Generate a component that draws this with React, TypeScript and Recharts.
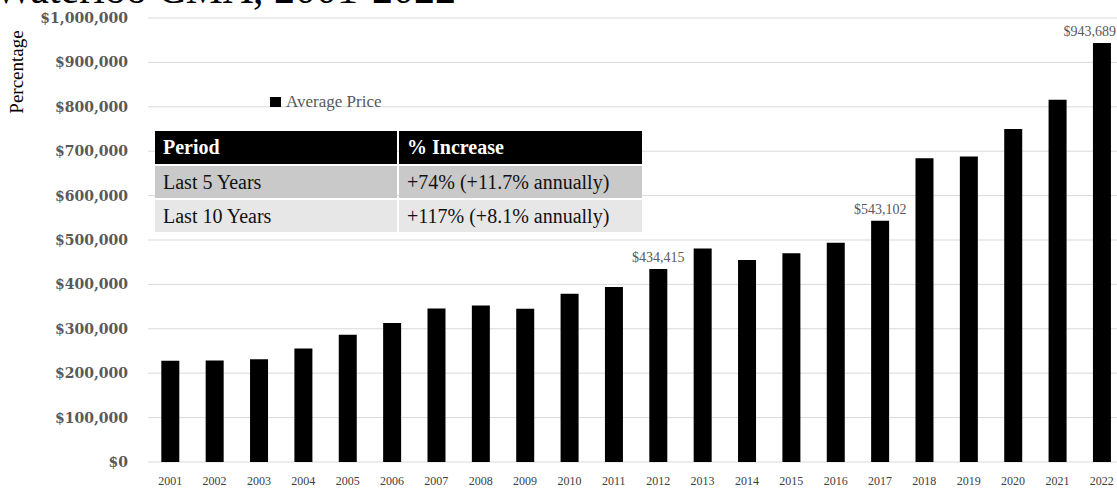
import React from 'react';
import { BarChart, Bar, XAxis, YAxis, CartesianGrid, LabelList } from 'recharts';

const years = [
  '2001', '2002', '2003', '2004', '2005', '2006', '2007', '2008', '2009', '2010', '2011',
  '2012', '2013', '2014', '2015', '2016', '2017', '2018', '2019', '2020', '2021', '2022',
];

const averagePrice = [
  227800, 228500, 231700, 255700, 286700, 313000, 345500, 352300, 345000, 379000, 394000,
  434415, 481000, 455000, 470000, 494000, 543102, 684000, 688000, 750000, 816000, 943689,
];

// only these years get a value label above the bar
const labeledYears = ['2012', '2017', '2022'];

const yTicks = [0, 100000, 200000, 300000, 400000, 500000, 600000, 700000, 800000, 900000, 1000000];

const periods = ['Last 5 Years', 'Last 10 Years'];
const increases = ['+74% (+11.7% annually)', '+117% (+8.1% annually)'];

const data = years.map((year, i) => ({ year, price: averagePrice[i] }));

const money = (v: number) => '$' + v.toLocaleString('en-US');

const serif = '"Liberation Serif", "DejaVu Serif", serif';

const VIEW_RIGHT = 1117;

function ValueLabel(props: any) {
  const { x, y, width, value, index } = props;
  if (!labeledYears.includes(years[index])) return null;
  const cx = x + width / 2;
  // keep the last label inside the visible area
  const halfText = 27;
  const pinned = cx + halfText > VIEW_RIGHT;
  return (
    <text
      x={pinned ? VIEW_RIGHT - 1 : cx}
      y={y - 7}
      textAnchor={pinned ? 'end' : 'middle'}
      fontFamily={serif}
      fontSize={14}
      fill="#595959"
    >
      {money(value)}
    </text>
  );
}

export default function App() {
  const rowBg = ['#c9c9c9', '#e7e7e7'];
  return (
    <div
      style={{
        position: 'absolute',
        left: 0,
        top: 0,
        width: 1117,
        height: 489,
        overflow: 'hidden',
        background: '#fff',
      }}
    >
      <div
        style={{
          position: 'absolute',
          left: -6,
          top: -31,
          fontFamily: serif,
          fontSize: 42,
          whiteSpace: 'nowrap',
          color: '#000',
          lineHeight: '40px',
        }}
      >
        Waterloo CMA, 2001-2022
      </div>

      <div
        style={{
          position: 'absolute',
          left: 17,
          top: 72,
          transform: 'translate(-50%, -50%) rotate(-90deg)',
          fontFamily: serif,
          fontSize: 19,
          color: '#000',
          whiteSpace: 'nowrap',
        }}
      >
        Percentage
      </div>

      <BarChart
        width={1140}
        height={489}
        data={data}
        margin={{ top: 18, right: 16, left: 0, bottom: 0 }}
        barCategoryGap="30%"
      >
        <CartesianGrid vertical={false} stroke="#d9d9d9" />
        <XAxis
          dataKey="year"
          height={27}
          axisLine={false}
          tickLine={false}
          tickMargin={8}
          interval={0}
          tick={{ fontFamily: serif, fontSize: 12, fill: '#404040' }}
        />
        <YAxis
          width={148}
          domain={[0, 1000000]}
          ticks={yTicks}
          axisLine={false}
          tickLine={false}
          tickMargin={14}
          tickFormatter={money}
          tick={{ fontFamily: '"DejaVu Serif", serif', fontSize: 14, fontWeight: 'bold', fill: '#595959' }}
        />
        <Bar dataKey="price" name="Average Price" fill="#000" isAnimationActive={false}>
          <LabelList dataKey="price" content={<ValueLabel />} />
        </Bar>
      </BarChart>

      {/* series legend */}
      <div
        style={{
          position: 'absolute',
          left: 270,
          top: 92,
          display: 'flex',
          alignItems: 'center',
          fontFamily: serif,
          fontSize: 17,
          color: '#595959',
          whiteSpace: 'nowrap',
        }}
      >
        <span style={{ display: 'inline-block', width: 11, height: 10, background: '#000', marginRight: 5 }} />
        Average Price
      </div>

      <table
        style={{
          position: 'absolute',
          left: 153,
          top: 129,
          width: 489,
          borderCollapse: 'separate',
          borderSpacing: 2,
          fontFamily: serif,
          fontSize: 20,
          tableLayout: 'fixed',
        }}
      >
        <colgroup>
          <col style={{ width: 242 }} />
          <col style={{ width: 243 }} />
        </colgroup>
        <thead>
          <tr style={{ height: 33 }}>
            <th style={{ background: '#000', color: '#fff', textAlign: 'left', padding: '0 8px' }}>Period</th>
            <th style={{ background: '#000', color: '#fff', textAlign: 'left', padding: '0 8px' }}>% Increase</th>
          </tr>
        </thead>
        <tbody>
          {periods.map((p, i) => (
            <tr key={p} style={{ height: 32 }}>
              <td style={{ background: rowBg[i], color: '#111', padding: '0 8px' }}>{p}</td>
              <td style={{ background: rowBg[i], color: '#111', padding: '0 8px' }}>{increases[i]}</td>
            </tr>
          ))}
        </tbody>
      </table>
    </div>
  );
}
